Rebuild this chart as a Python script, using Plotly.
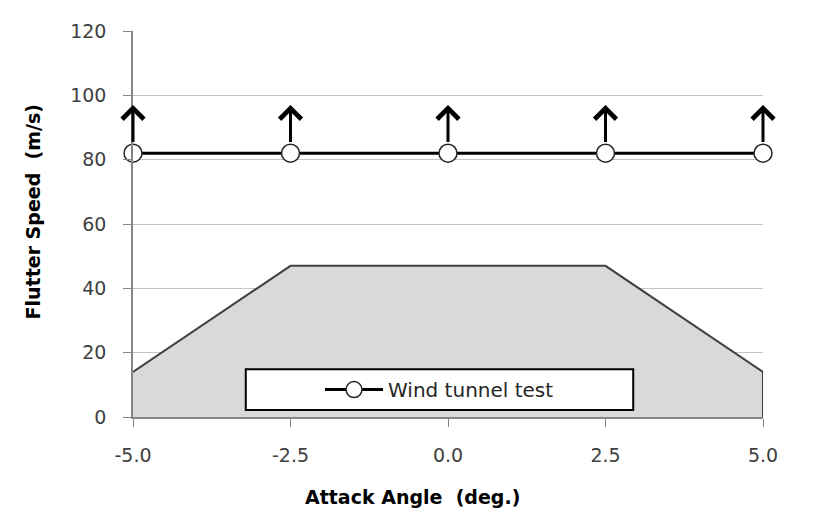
import plotly.graph_objects as go

# ---- data ----
test_angles = [-5.0, -2.5, 0.0, 2.5, 5.0]
test_speeds = [82, 82, 82, 82, 82]          # flutter not observed up to this speed
arrow_tip_speeds = [97, 97, 97, 97, 97]     # arrows indicating "higher than"
region_angles = [-5.0, -2.5, 2.5, 5.0, 5.0]
region_speeds = [14, 47, 47, 14, 0]
x_tickvals = [-5.0, -2.5, 0.0, 2.5, 5.0]
x_ticktext = ["-5.0", "-2.5", "0.0", "2.5", "5.0"]
y_tickvals = [0, 20, 40, 60, 80, 100, 120]

FONT = "DejaVu Sans"
fig = go.Figure()

fig.add_trace(go.Scatter(
    x=region_angles, y=region_speeds, mode="lines", fill="tozeroy",
    fillcolor="#d9d9d9", line=dict(color="#404040", width=2),
    showlegend=False, hoverinfo="skip"))

fig.add_trace(go.Scatter(
    x=test_angles, y=test_speeds, mode="lines+markers", name="Wind tunnel test",
    line=dict(color="black", width=3), cliponaxis=False,
    marker=dict(symbol="circle", size=18, color="white",
                line=dict(color="#262626", width=1.5))))

for xa, y0, y1 in zip(test_angles, test_speeds, arrow_tip_speeds):
    fig.add_annotation(
        x=xa, y=y1, ax=xa, ay=y0 + 3, xref="x", yref="y", axref="x", ayref="y",
        showarrow=True, arrowhead=4, arrowsize=1.4, arrowwidth=3,
        arrowcolor="black", text="", standoff=0, startstandoff=0)

# legend frame
fig.add_shape(type="rect", xref="paper", yref="paper",
              x0=0.179, x1=0.794, y0=0.018, y1=0.124,
              fillcolor="white", line=dict(color="black", width=2), layer="above")

# axis titles
fig.add_annotation(text="<b>Flutter Speed  (m/s)</b>", xref="paper", yref="paper",
                   x=-0.1587, y=0.53, textangle=-90, showarrow=False,
                   xanchor="center", yanchor="middle",
                   font=dict(family=FONT, size=19, color="black"))
fig.add_annotation(text="<b>Attack Angle  (deg.)</b>", xref="paper", yref="paper",
                   x=0.443, y=-0.206, showarrow=False,
                   xanchor="center", yanchor="middle",
                   font=dict(family=FONT, size=19, color="black"))

fig.update_layout(
    width=840, height=531,
    margin=dict(l=125, r=85, t=21, b=122),
    paper_bgcolor="white", plot_bgcolor="white",
    font=dict(family=FONT, size=19, color="#404040"),
    showlegend=True,
    legend=dict(x=0.4865, y=0.071, xanchor="center", yanchor="middle",
                bgcolor="rgba(0,0,0,0)", borderwidth=0, itemwidth=58,
                font=dict(family=FONT, size=20, color="#262626")),
    xaxis=dict(range=[-5, 5], tickvals=x_tickvals, ticktext=x_ticktext,
               showgrid=False, zeroline=False, showline=True,
               linecolor="#868686", linewidth=1.5,
               ticks="outside", ticklen=8, tickcolor="#868686",
               ticklabelstandoff=12),
    yaxis=dict(range=[0, 120], tickvals=y_tickvals,
               showgrid=True, gridcolor="#c4c4c4", gridwidth=1.2,
               zeroline=False, showline=True,
               linecolor="#868686", linewidth=1.5,
               ticks="outside", ticklen=8, tickcolor="#868686",
               ticklabelstandoff=13),
)

fig.write_html("out.html")
